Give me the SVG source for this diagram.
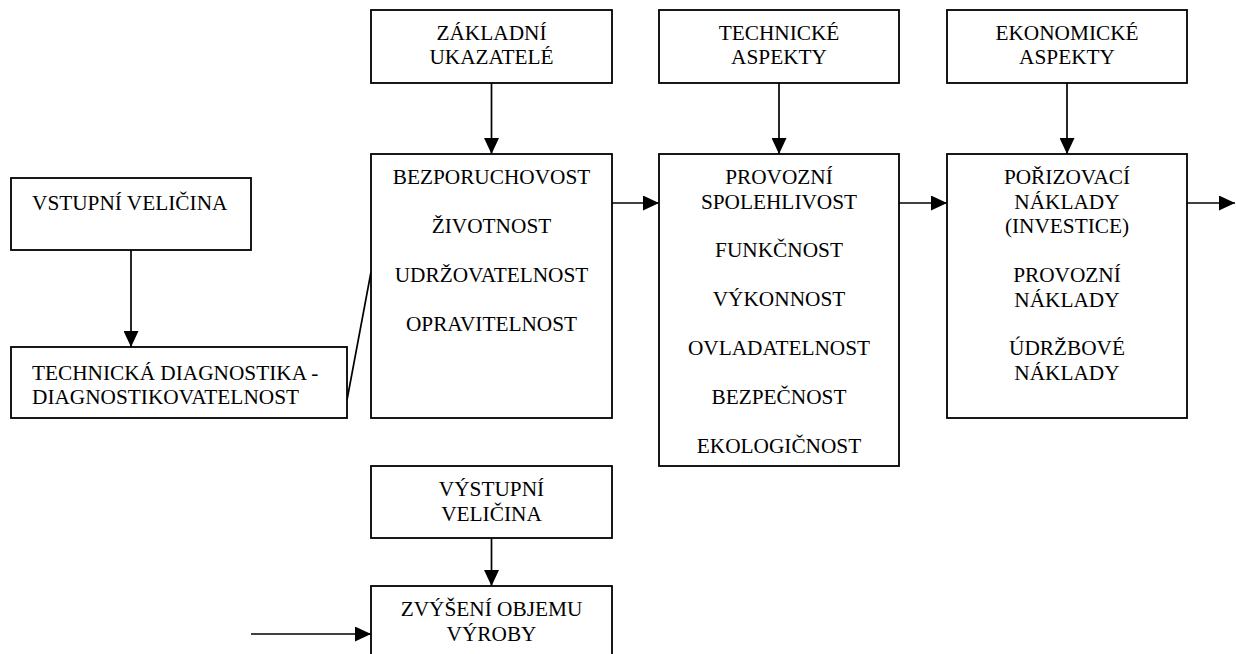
<svg xmlns="http://www.w3.org/2000/svg" width="1236" height="654" viewBox="0 0 1236 654">
<style>
.box{fill:#fff;stroke:#000;stroke-width:1.8}
.t{font-family:"Liberation Serif","Times New Roman",serif;font-size:21.3px;fill:#000;text-anchor:middle}
.l{text-anchor:start}
.c{stroke:#000;stroke-width:1.7;fill:none}
</style>
<defs>
<marker id="ah" markerUnits="userSpaceOnUse" markerWidth="16" markerHeight="15" refX="16" refY="7.5" orient="auto">
<path d="M0,0 L16,7.5 L0,15 z" fill="#000"/>
</marker>
</defs>
<rect width="1236" height="654" fill="#fff"/>
<g id="connectors">
<line class="c" x1="131" y1="250" x2="131" y2="347" marker-end="url(#ah)"/>
<line class="c" x1="347" y1="400" x2="371" y2="272"/>
<line class="c" x1="491.5" y1="83" x2="491.5" y2="154" marker-end="url(#ah)"/>
<line class="c" x1="779" y1="83" x2="779" y2="154" marker-end="url(#ah)"/>
<line class="c" x1="1067" y1="83" x2="1067" y2="154" marker-end="url(#ah)"/>
<line class="c" x1="612" y1="203" x2="659" y2="203" marker-end="url(#ah)"/>
<line class="c" x1="899" y1="203" x2="947" y2="203" marker-end="url(#ah)"/>
<line class="c" x1="1187" y1="203" x2="1235" y2="203" marker-end="url(#ah)"/>
<line class="c" x1="491.5" y1="538" x2="491.5" y2="586" marker-end="url(#ah)"/>
<line class="c" x1="251" y1="634" x2="371" y2="634" marker-end="url(#ah)"/>
</g>
<g id="vstupni">
<rect class="box" x="11" y="178" width="240" height="72"/>
<text class="t l" x="32" y="210">VSTUPNÍ VELIČINA</text>
</g>
<g id="diagnostika">
<rect class="box" x="11" y="347" width="336" height="71"/>
<text class="t l" x="32" y="380">TECHNICKÁ DIAGNOSTIKA -</text>
<text class="t l" x="32" y="404">DIAGNOSTIKOVATELNOST</text>
</g>
<g id="zakladni">
<rect class="box" x="371" y="10" width="241" height="73"/>
<text class="t" x="491.5" y="39.5">ZÁKLADNÍ</text>
<text class="t" x="491.5" y="64">UKAZATELÉ</text>
</g>
<g id="technicke">
<rect class="box" x="659" y="10" width="240" height="73"/>
<text class="t" x="779" y="39.5">TECHNICKÉ</text>
<text class="t" x="779" y="64">ASPEKTY</text>
</g>
<g id="ekonomicke">
<rect class="box" x="947" y="10" width="240" height="73"/>
<text class="t" x="1067" y="39.5">EKONOMICKÉ</text>
<text class="t" x="1067" y="64">ASPEKTY</text>
</g>
<g id="ukazatele">
<rect class="box" x="371" y="154" width="241" height="264"/>
<text class="t" x="491.5" y="184">BEZPORUCHOVOST</text>
<text class="t" x="491.5" y="233">ŽIVOTNOST</text>
<text class="t" x="491.5" y="282">UDRŽOVATELNOST</text>
<text class="t" x="491.5" y="331">OPRAVITELNOST</text>
</g>
<g id="provozni">
<rect class="box" x="659" y="154" width="240" height="312"/>
<text class="t" x="779" y="184">PROVOZNÍ</text>
<text class="t" x="779" y="208.5">SPOLEHLIVOST</text>
<text class="t" x="779" y="257">FUNKČNOST</text>
<text class="t" x="779" y="306">VÝKONNOST</text>
<text class="t" x="779" y="355">OVLADATELNOST</text>
<text class="t" x="779" y="404">BEZPEČNOST</text>
<text class="t" x="779" y="453">EKOLOGIČNOST</text>
</g>
<g id="naklady">
<rect class="box" x="947" y="154" width="240" height="264"/>
<text class="t" x="1067" y="184">POŘIZOVACÍ</text>
<text class="t" x="1067" y="208.5">NÁKLADY</text>
<text class="t" x="1067" y="233">(INVESTICE)</text>
<text class="t" x="1067" y="282">PROVOZNÍ</text>
<text class="t" x="1067" y="306.5">NÁKLADY</text>
<text class="t" x="1067" y="355">ÚDRŽBOVÉ</text>
<text class="t" x="1067" y="379.5">NÁKLADY</text>
</g>
<g id="vystupni">
<rect class="box" x="371" y="466" width="241" height="72"/>
<text class="t" x="491.5" y="496">VÝSTUPNÍ</text>
<text class="t" x="491.5" y="521">VELIČINA</text>
</g>
<g id="zvyseni">
<rect class="box" x="371" y="586" width="241" height="90"/>
<text class="t" x="491.5" y="616">ZVÝŠENÍ OBJEMU</text>
<text class="t" x="491.5" y="641">VÝROBY</text>
</g>
</svg>
